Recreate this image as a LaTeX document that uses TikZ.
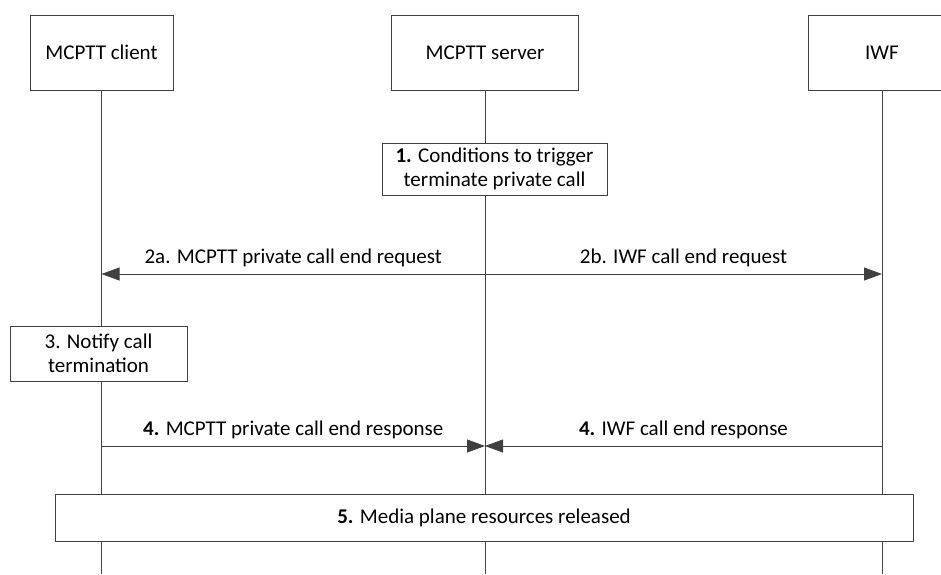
\documentclass[tikz,border=0pt]{standalone}
\usepackage{fontspec}
\setmainfont{Carlito}
\usetikzlibrary{arrows.meta,positioning}
\definecolor{lineGray}{HTML}{404040}

\begin{document}
\begin{tikzpicture}[x=1pt,y=-1pt,font=\fontsize{21}{24.5}\selectfont,
  ent/.style={draw=lineGray,minimum height=75pt,inner sep=0pt},
  act/.style={draw=lineGray,fill=white,align=center,inner sep=0pt},
  life/.style={draw=lineGray,line width=0.8pt},
  msg/.style={draw=lineGray,line width=0.8pt,-{Triangle[length=18pt,width=13pt]}}]
\useasboundingbox (0,0) rectangle (941,574);
\clip (0,0) rectangle (941,574);
% --- entities ---
\node[ent,minimum width=143pt] (client) at (101.5,52.5) {MCPTT client};
\node[ent,minimum width=187pt] (server) at (485,52.5) {MCPTT server};
\node[ent,minimum width=148pt] (iwf) at (882,52.5) {IWF};
\coordinate (bottom) at (0,574);
\draw[life] (client.south) -- (client.south |- bottom);
\draw[life] (server.south) -- (server.south |- bottom);
\draw[life] (iwf.south) -- (iwf.south |- bottom);
% --- 1 ---
\node[act,minimum width=225pt,minimum height=52pt] (cond) at (494.5,169)
  {\textbf{1.} Conditions to trigger\\terminate private call};
% --- 2a / 2b ---
\coordinate (c2) at (client.south |- 0,274);
\coordinate (s2) at (server.south |- 0,274);
\coordinate (i2) at (iwf.south |- 0,274);
\draw[msg] (s2) -- node[above=3pt] {2a. MCPTT private call end request} (c2);
\draw[msg] (s2) -- node[above=3pt] {2b. IWF call end request} (i2);
% --- 3 ---
\node[act,minimum width=177pt,minimum height=55pt] (notify) at (98.5,353.5)
  {3. Notify call\\termination};
% --- 4 ---
\coordinate (c4) at (client.south |- 0,446);
\coordinate (s4) at (server.south |- 0,446);
\coordinate (i4) at (iwf.south |- 0,446);
\draw[msg] (c4) -- node[above=3pt] {\textbf{4.} MCPTT private call end response} (s4);
\draw[msg] (i4) -- node[above=3pt] {\textbf{4.} IWF call end response} (s4);
% --- 5 ---
\node[act,minimum width=858pt,minimum height=47pt] (media) at (484,518)
  {\textbf{5.} Media plane resources released};
\end{tikzpicture}
\end{document}
